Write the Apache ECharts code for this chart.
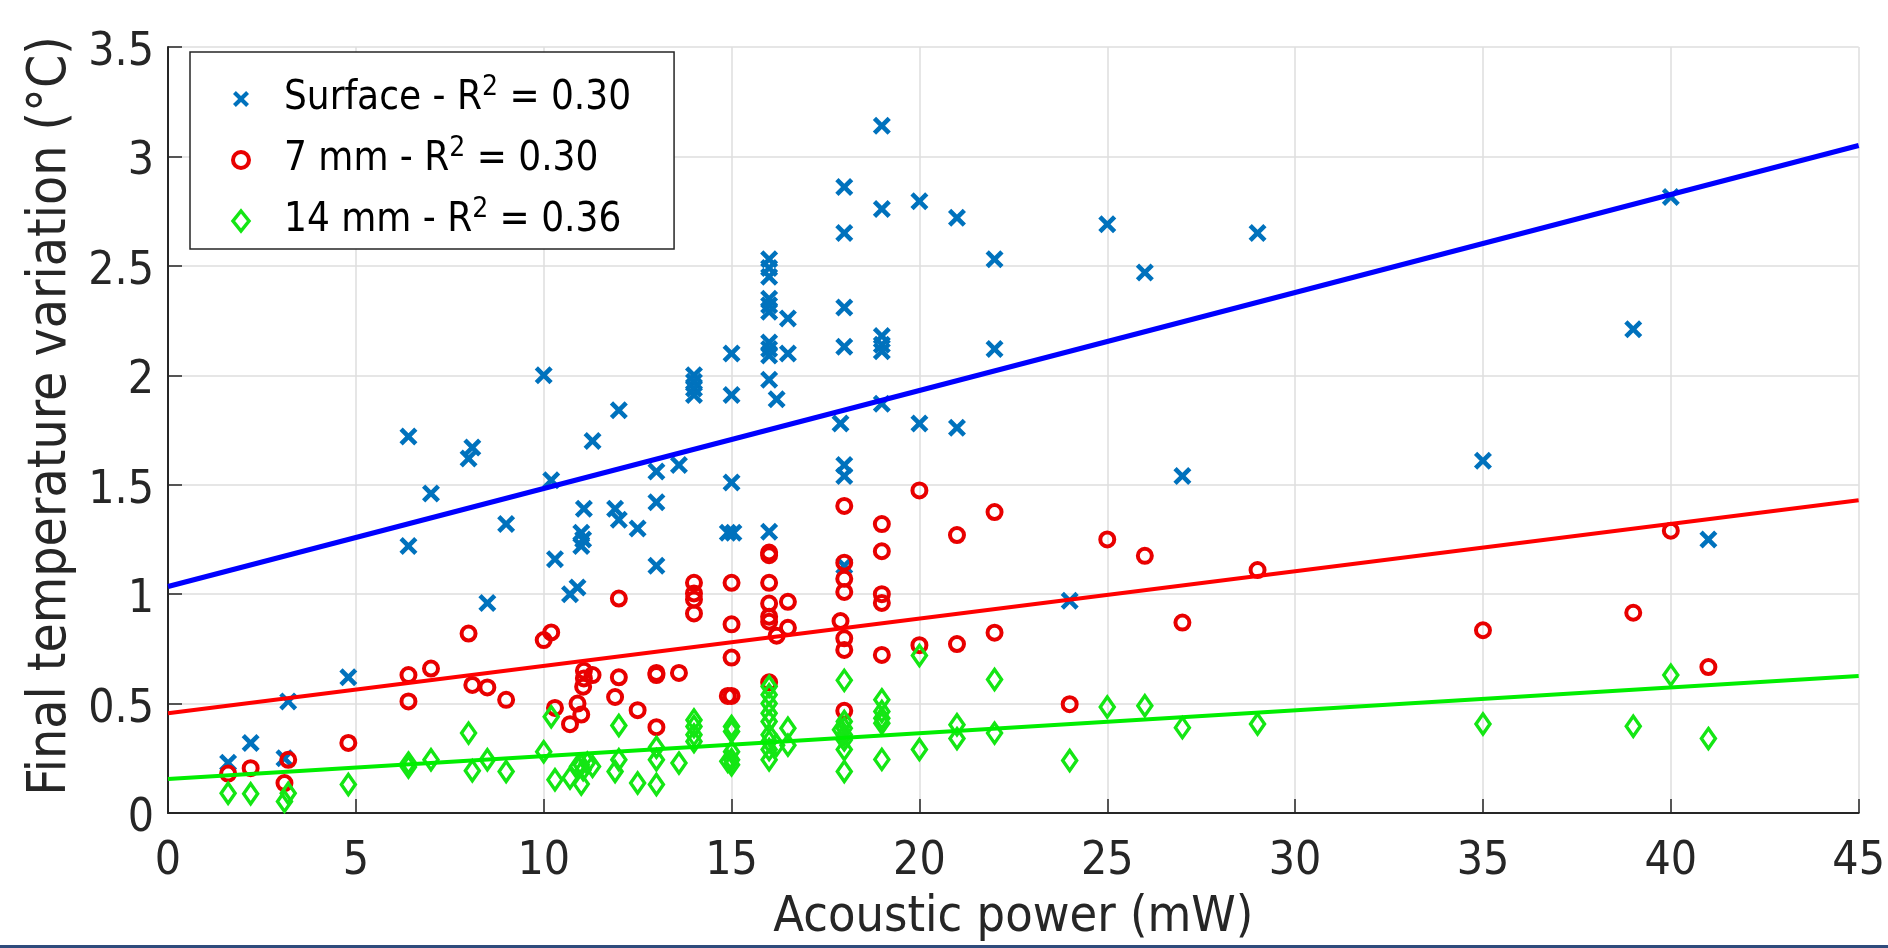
<!DOCTYPE html>
<html>
<head>
<meta charset="utf-8">
<script src="https://cdn.jsdelivr.net/npm/echarts@6/dist/echarts.min.js"></script>
<style>
html,body{margin:0;padding:0;background:#fff;}
#chart{width:1888px;height:948px;}
</style>
</head>
<body>
<div id="chart"></div>
<script>
// ---- data ----
var seriesNames = ['Surface', '7 mm', '14 mm'];
var r2Labels = ['0.30', '0.30', '0.36'];

var surfaceData = [
  [1.6,0.23],[2.2,0.32],[3.1,0.25],[3.2,0.51],[4.8,0.62],[6.4,1.72],[6.4,1.22],[7.0,1.46],
  [8.0,1.62],[8.1,1.67],[8.5,0.96],[9.0,1.32],[10.0,2.0],[10.2,1.52],[10.3,1.16],[10.7,1.0],
  [10.9,1.03],[11.0,1.22],[11.05,1.25],[11.0,1.28],[11.07,1.39],[11.3,1.70],[11.9,1.39],
  [12.0,1.34],[12.0,1.84],[12.5,1.30],[13,1.56],[13.6,1.59],[13,1.42],[13,1.13],
  [14,2.0],[14,1.97],[14,1.94],[14,1.91],[15,2.10],[15,1.91],[15,1.51],[14.9,1.28],[15.05,1.28],
  [16,2.53],[16,2.49],[16,2.45],[16,2.35],[16,2.32],[16,2.29],[16,2.15],[16,2.12],[16,2.09],
  [16,1.98],[16,1.285],[16.2,1.89],[16.5,2.26],[16.5,2.10],[17.9,1.78],[18,2.86],[18,2.65],
  [18,2.31],[18,2.13],[18,1.59],[18,1.54],[18,1.13],[19,3.14],[19,2.76],[19,2.18],[19,2.14],
  [19,2.11],[19,1.87],[20,2.795],[20,1.78],[21,2.72],[21,1.76],[22,2.53],[22,2.12],[24,0.97],
  [25,2.69],[26,2.47],[27,1.54],[29,2.65],[35,1.61],[39,2.21],[40,2.815],[41,1.25]
];
var mm7Data = [
  [1.6,0.18],[2.2,0.205],[3.1,0.137],[3.2,0.243],[4.8,0.32],[6.4,0.63],[6.4,0.51],[7.0,0.66],
  [8.0,0.82],[8.1,0.585],[8.5,0.574],[9.0,0.517],[10.0,0.79],[10.2,0.825],[10.3,0.48],[10.7,0.406],
  [10.9,0.50],[11.0,0.45],[11.05,0.577],[11.07,0.615],[11.07,0.65],[11.3,0.63],[11.9,0.53],
  [12.0,0.98],[12.0,0.62],[12.5,0.47],[13,0.64],[13,0.63],[13,0.392],[13.6,0.64],
  [14,1.052],[14,1.003],[14,0.976],[14,0.912],[15,1.052],[15,0.862],[15,0.71],[15,0.535],[14.9,0.535],
  [16,1.19],[16,1.178],[16,1.052],[16,0.957],[16,0.897],[16,0.874],[16,0.597],[16.2,0.81],
  [16.5,0.965],[16.5,0.846],[17.9,0.877],[18,1.403],[18,1.144],[18,1.07],[18,1.01],[18,0.798],
  [18,0.745],[18,0.467],[19,1.32],[19,1.196],[19,1.0],[19,0.96],[19,0.722],[20,1.474],[20,0.767],
  [21,1.27],[21,0.772],[22,1.375],[22,0.824],[24,0.497],[25,1.25],[26,1.175],[27,0.87],[29,1.11],
  [35,0.835],[39,0.915],[40,1.29],[41,0.667]
];
var mm14Data = [
  [1.6,0.09],[2.2,0.088],[3.1,0.053],[3.2,0.09],[4.8,0.13],[6.4,0.228],[6.4,0.21],[7.0,0.243],
  [8.0,0.365],[8.1,0.193],[8.5,0.243],[9.0,0.19],[10.0,0.28],[10.2,0.44],[10.3,0.152],[10.7,0.16],
  [10.9,0.213],[11.0,0.132],[11.0,0.22],[11.05,0.198],[11.16,0.228],[11.3,0.213],[11.9,0.19],
  [12.0,0.40],[12.0,0.243],[12.5,0.137],[13,0.30],[13,0.243],[13,0.13],[13.6,0.228],
  [14,0.425],[14,0.395],[14,0.357],[14,0.327],[15,0.395],[15,0.372],[15,0.28],[15,0.243],[15,0.22],
  [14.9,0.236],[16,0.578],[16,0.54],[16,0.50],[16,0.456],[16,0.418],[16,0.357],[16,0.327],[16,0.29],
  [16,0.243],[16.2,0.31],[16.5,0.387],[16.5,0.31],[17.9,0.38],[18,0.606],[18,0.418],[18,0.387],
  [18,0.357],[18,0.334],[18,0.29],[18,0.19],[19,0.517],[19,0.464],[19,0.433],[19,0.41],[19,0.245],
  [20,0.72],[20,0.29],[21,0.403],[21,0.34],[22,0.61],[22,0.365],[24,0.24],[25,0.484],[26,0.49],
  [27,0.39],[29,0.407],[35,0.407],[39,0.396],[40,0.63],[41,0.34]
];
// linear fits (end points at x = 0 and x = 45)
var surfaceFit = [[0,1.035],[45,3.05]];
var mm7Fit = [[0,0.456],[45,1.429]];
var mm14Fit = [[0,0.155],[45,0.626]];

var xTicks = {min:0, max:45, interval:5};
var yTicks = {min:0, max:3.5, interval:0.5};

// ---- chart ----
var FONT = "'DejaVu Sans Condensed', 'DejaVu Sans', sans-serif";
var TXT = '#262626';
var crossPath = 'path://M1.8,0 L5,3.2 L8.2,0 L10,1.8 L6.8,5 L10,8.2 L8.2,10 L5,6.8 L1.8,10 L0,8.2 L3.2,5 L0,1.8 Z';

var chart = echarts.init(document.getElementById('chart'), null, {renderer:'canvas'});
var option = {
  backgroundColor:'#ffffff',
  animation:false,
  textStyle:{fontFamily:FONT},
  grid:{left:168, right:21, top:47, bottom:134, containLabel:false},
  xAxis:{
    type:'value', min:xTicks.min, max:xTicks.max, interval:xTicks.interval,
    name:'Acoustic power (mW)', nameLocation:'middle', nameGap:80,
    nameTextStyle:{fontSize:50, color:TXT, fontFamily:FONT},
    axisLine:{show:true, onZero:false, lineStyle:{color:TXT, width:2}},
    axisTick:{show:true, inside:true, length:14, lineStyle:{color:TXT, width:1.5}},
    axisLabel:{fontSize:46, color:TXT, margin:26, fontFamily:FONT},
    splitLine:{show:true, lineStyle:{color:'#dedede', width:1.5}}
  },
  yAxis:{
    type:'value', min:yTicks.min, max:yTicks.max, interval:yTicks.interval,
    name:'Final temperature variation (\u00B0C)', nameLocation:'middle', nameGap:84,
    nameTextStyle:{fontSize:53, color:TXT, fontFamily:FONT, padding:[0,0,0,28]},
    axisLine:{show:true, onZero:false, lineStyle:{color:TXT, width:2}},
    axisTick:{show:true, inside:true, length:14, lineStyle:{color:TXT, width:1.5}},
    axisLabel:{
      margin:14, color:TXT, fontSize:46, fontFamily:FONT,
      formatter:'{v|{value}}',
      rich:{v:{fontSize:46, color:TXT, fontFamily:FONT, padding:[12,0,0,0]}}
    },
    splitLine:{show:true, lineStyle:{color:'#dedede', width:1.5}}
  },
  legend:{
    show:true, orient:'vertical', left:190, top:52,
    data:[
      {name:seriesNames[0]},
      {name:seriesNames[1], itemStyle:{borderWidth:4}},
      {name:seriesNames[2], itemStyle:{borderWidth:3.5}}
    ],
    backgroundColor:'#ffffff', borderColor:'#262626', borderWidth:1.5,
    padding:[22,43,8,41], itemGap:16, itemWidth:16, itemHeight:20,
    formatter:function(name){
      var i = seriesNames.indexOf(name);
      return '{a|' + name + ' - R}{s|2}{a| = ' + r2Labels[i] + '}';
    },
    textStyle:{
      fontFamily:FONT, color:'#000', padding:[0,0,0,30],
      rich:{
        a:{fontSize:40, lineHeight:50, color:'#000', fontFamily:FONT},
        s:{fontSize:28, lineHeight:14, verticalAlign:'top', color:'#000', fontFamily:FONT}
      }
    }
  },
  series:[
    {name:seriesNames[0], type:'scatter', data:surfaceData, symbol:crossPath, symbolSize:18,
     itemStyle:{color:'#0072BD', opacity:1}, z:2},
    {name:seriesNames[1], type:'scatter', data:mm7Data, symbol:'circle', symbolSize:14,
     itemStyle:{color:'rgba(0,0,0,0)', borderColor:'#e80000', borderWidth:4, opacity:1}, z:2},
    {name:seriesNames[2], type:'scatter', data:mm14Data, symbol:'diamond', symbolSize:[14,20],
     itemStyle:{color:'rgba(0,0,0,0)', borderColor:'#14e614', borderWidth:3.5, opacity:1}, z:2},
    {name:'Surface fit', type:'line', data:surfaceFit, showSymbol:false, silent:true,
     lineStyle:{color:'#0000ff', width:5}, z:3},
    {name:'7 mm fit', type:'line', data:mm7Fit, showSymbol:false, silent:true,
     lineStyle:{color:'#ff0000', width:4}, z:3},
    {name:'14 mm fit', type:'line', data:mm14Fit, showSymbol:false, silent:true,
     lineStyle:{color:'#00ee00', width:4}, z:3}
  ],
  graphic:[
    {type:'rect', left:0, bottom:0, shape:{width:1888, height:3}, style:{fill:'#2f4b7c'}, silent:true}
  ]
};
chart.setOption(option);
</script>
</body>
</html>
